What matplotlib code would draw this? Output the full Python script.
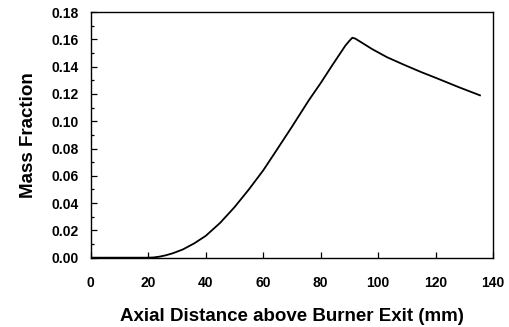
import matplotlib
matplotlib.use("Agg")
import matplotlib.pyplot as plt
from matplotlib.ticker import MultipleLocator

plt.rcParams['font.family'] = ['Liberation Sans', 'DejaVu Sans']

distance_mm = [0, 10, 20, 22, 24, 26, 28.5, 32, 36, 40, 45, 50, 55, 60, 64.4, 70,
               75.9, 80, 84, 88.6, 90, 91, 92, 94, 97.8, 103, 109.4, 115, 121, 128, 135.4]
mass_fraction = [0.0, 0.0, 0.0, 0.0002, 0.0008, 0.0017, 0.0032, 0.006, 0.0105, 0.016,
                 0.0255, 0.037, 0.050, 0.064, 0.078, 0.096, 0.1155, 0.128, 0.141,
                 0.1555, 0.159, 0.1612, 0.1606, 0.158, 0.153, 0.147, 0.141, 0.136,
                 0.131, 0.125, 0.119]

x_ticks = [0, 20, 40, 60, 80, 100, 120, 140]
y_ticks = [0.00, 0.02, 0.04, 0.06, 0.08, 0.10, 0.12, 0.14, 0.16, 0.18]

fig = plt.figure(figsize=(5.10, 3.27), dpi=100)
ax = fig.add_axes([0.178, 0.212, 0.789, 0.751])

ax.plot(distance_mm, mass_fraction, color='black', linewidth=1.3)

ax.set_xlim(0, 140)
ax.set_ylim(0, 0.18)
ax.set_xticks(x_ticks)
ax.set_yticks(y_ticks)
ax.set_xticklabels([str(v) for v in x_ticks], fontweight='bold', fontsize=10)
ax.set_yticklabels([f"{v:.2f}" for v in y_ticks], fontweight='bold', fontsize=10)
ax.yaxis.set_minor_locator(MultipleLocator(0.01))

ax.tick_params(axis='both', which='major', direction='in', length=4, width=0.9,
               top=False, right=False)
ax.tick_params(axis='x', which='major', pad=13)
ax.tick_params(axis='y', which='major', pad=9)
ax.tick_params(axis='y', which='minor', direction='in', length=2.5, width=0.9,
               right=False)

for s in ax.spines.values():
    s.set_linewidth(1.0)

ax.set_xlabel('Axial Distance above Burner Exit (mm)', fontweight='bold',
              fontsize=13.5, labelpad=13)
ax.set_ylabel('Mass Fraction', fontweight='bold', fontsize=13.5, labelpad=10)

fig.savefig('out.png', dpi=100)
